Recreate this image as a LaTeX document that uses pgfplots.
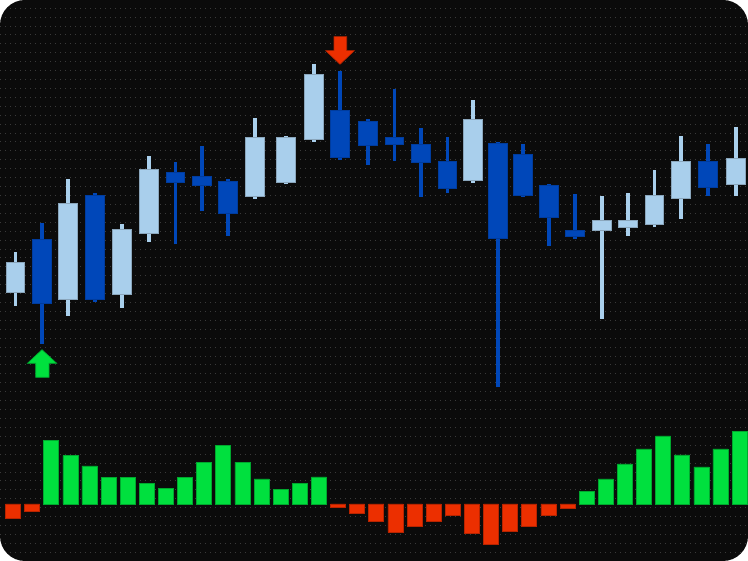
\documentclass[border=0pt]{standalone}
\usepackage{pgfplots}
\pgfplotsset{compat=1.18}
\usepackage{pgfplotstable}
\definecolor{bg}{HTML}{0B0B0B}
\definecolor{gridc}{HTML}{3A3A3A}
\definecolor{upc}{HTML}{A9CFEC}
\definecolor{upb}{HTML}{8AA6BC}
\definecolor{dnc}{HTML}{0047B9}
\definecolor{dnb}{HTML}{003C9E}
\definecolor{grc}{HTML}{00E03E}
\definecolor{grb}{HTML}{00A82E}
\definecolor{rdc}{HTML}{EC2F00}
\definecolor{rdb}{HTML}{B82400}

% rising candles: x open high low close
\pgfplotstableread{
x     open  high  low   close
15.5  269.3 309.3 255.0 298.3
68    262.0 382.0 245.0 356.7
122   267.3 336.7 253.3 331.0
149   327.7 405.3 319.3 391.0
255   365.3 442.7 362.3 423.0
286   379.3 425.3 376.7 422.7
314   422.3 497.0 419.3 485.7
473   381.0 461.0 378.3 441.0
602   331.0 365.0 242.0 339.7
628   334.0 368.0 325.0 339.7
654.5 337.0 391.0 333.7 365.0
681   362.7 425.3 342.3 399.3
736   377.3 434.0 365.0 402.3
}\upcandles

% falling candles: x open high low close
\pgfplotstableread{
x     open  high  low   close
42    321.0 338.0 217.3 257.7
95    365.0 368.0 259.3 262.0
175.5 388.3 399.3 316.7 379.3
202   383.7 415.3 349.7 375.7
228   379.3 382.0 325.3 348.3
340   450.0 490.3 401.3 404.3
368   438.7 441.7 396.0 416.0
394.5 423.3 471.7 400.3 417.3
421   416.0 433.0 364.3 398.7
447.5 398.7 424.3 367.7 373.3
498   416.7 419.3 173.7 323.0
523   406.0 417.3 364.3 366.3
549   375.3 377.3 315.3 343.7
575   330.0 367.0 321.7 324.7
708   399.3 417.0 365.3 374.0
}\downcandles

% oscillator histogram
\pgfplotstableread{
i  v
0  -14.7
1  -7.0
2  63.7
3  48.3
4  38.0
5  26.7
6  26.3
7  20.7
8  15.3
9  26.3
10 41.7
11 58.3
12 41.7
13 25.0
14 14.3
15 20.7
16 27.0
17 -3.3
18 -9.7
19 -17.5
20 -28.3
21 -22.3
22 -17.7
23 -11.0
24 -29.3
25 -40.3
26 -27.3
27 -22.3
28 -11.3
29 -4.7
30 12.7
31 25.0
32 40.0
33 55.0
34 68.0
35 49.0
36 37.0
37 55.0
38 72.3
}\hist

\begin{document}
\begin{tikzpicture}
\useasboundingbox (0,0) rectangle (748bp,561bp);
\begin{scope}
\clip[rounded corners=25bp] (0,0) rectangle (748bp,561bp);
\fill[bg] (0,0) rectangle (748bp,561bp);
\begin{axis}[
  at={(0,0)}, anchor=south west,
  width=748bp, height=561bp, scale only axis,
  xmin=0, xmax=748, ymin=0, ymax=561,
  axis line style={draw=none},
  xtick=\empty,
  ytick={8.7,17.62,...,553},
  yticklabels={}, major tick length=0pt,
  ymajorgrids,
  grid style={gridc, line width=1bp, dash pattern=on 1.4bp off 3.6bp},
  error bars/y dir=plus, error bars/y explicit, error bars/error mark=none,
]
% wicks
\addplot[draw=none, mark=none, error bars/error bar style={draw=upc, line width=3.1bp, line cap=butt}]
  table[x=x, y=low, y error expr=\thisrow{high}-\thisrow{low}] {\upcandles};
\addplot[draw=none, mark=none, error bars/error bar style={draw=dnc, line width=3.1bp, line cap=butt}]
  table[x=x, y=low, y error expr=\thisrow{high}-\thisrow{low}] {\downcandles};
% bodies (border, then fill)
\addplot[draw=none, mark=none, error bars/error bar style={draw=upb, line width=19.5bp, line cap=butt}]
  table[x=x, y expr=\thisrow{open}-0.9, y error expr=\thisrow{close}-\thisrow{open}+1.8] {\upcandles};
\addplot[draw=none, mark=none, error bars/error bar style={draw=upc, line width=17.7bp, line cap=butt}]
  table[x=x, y=open, y error expr=\thisrow{close}-\thisrow{open}] {\upcandles};
\addplot[draw=none, mark=none, error bars/error bar style={draw=dnb, line width=19.5bp, line cap=butt}]
  table[x=x, y expr=\thisrow{close}-0.9, y error expr=\thisrow{open}-\thisrow{close}+1.8] {\downcandles};
\addplot[draw=none, mark=none, error bars/error bar style={draw=dnc, line width=17.7bp, line cap=butt}]
  table[x=x, y=close, y error expr=\thisrow{open}-\thisrow{close}] {\downcandles};
% signal arrows
\addplot[fill=rdc, draw=rdb, line width=0.6bp] coordinates {
  (334,524.3) (346.7,524.3) (346.7,510.3) (354.3,510.3) (340,496.7) (325.7,510.3) (334,510.3)} -- cycle;
\addplot[fill=grc, draw=grb, line width=0.6bp] coordinates {
  (35.7,183.7) (49,183.7) (49,197.7) (56.7,197.7) (42,211.3) (27.4,197.7) (35.7,197.7)} -- cycle;
\end{axis}

\begin{axis}[
  at={(0,0)}, anchor=south west,
  width=748bp, height=561bp, scale only axis,
  xmin=-0.68, xmax=38.44, ymin=-57, ymax=504,
  hide axis,
  ybar, bar width=15bp,
]
\addplot[bar shift=0pt, fill=grc, draw=grb, line width=0.7bp,
  restrict y to domain=0:1000] table[x=i, y=v] {\hist};
\addplot[bar shift=0pt, fill=rdc, draw=rdb, line width=0.7bp,
  restrict y to domain=-1000:0] table[x=i, y=v] {\hist};
\end{axis}
\end{scope}
\end{tikzpicture}
\end{document}
